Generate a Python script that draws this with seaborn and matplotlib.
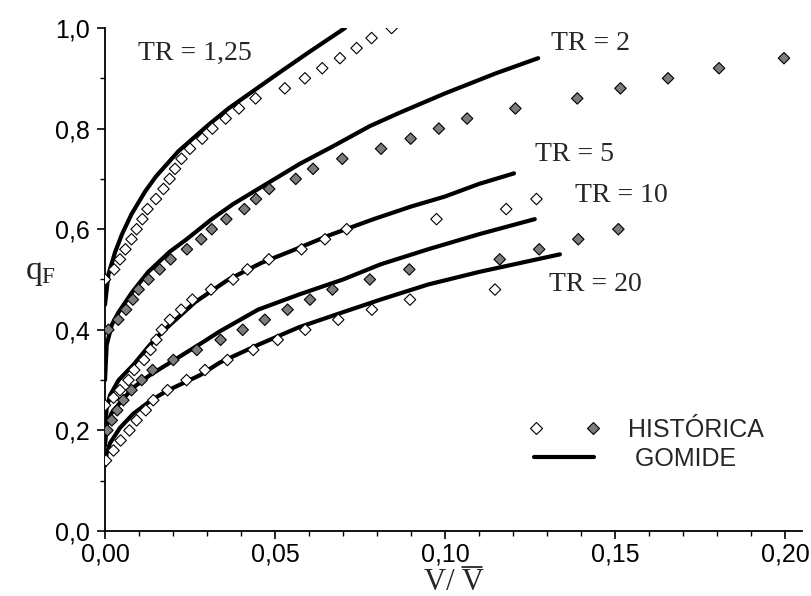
import matplotlib
matplotlib.use("Agg")
import matplotlib.pyplot as plt
from matplotlib.lines import Line2D
from matplotlib.legend_handler import HandlerTuple
from matplotlib.ticker import FixedLocator, MultipleLocator
import pandas as pd
import seaborn as sns

# ---- Historical series (V / V_mean, q_F) ----
hist_125_x = [0.0, 0.0027, 0.0044, 0.006, 0.0078, 0.0093, 0.011, 0.0125, 0.015, 0.0172,
              0.019, 0.0206, 0.0225, 0.025, 0.0286, 0.0316, 0.0355, 0.0394, 0.0443, 0.0529,
              0.0588, 0.0639, 0.0691, 0.074, 0.0784, 0.0843]
hist_125_q = [0.50, 0.52, 0.54, 0.56, 0.58, 0.60, 0.62, 0.64, 0.66, 0.68,
              0.70, 0.72, 0.74, 0.76, 0.78, 0.80, 0.82, 0.84, 0.86, 0.88,
              0.90, 0.92, 0.94, 0.96, 0.98, 1.00]

hist_2_x = [0.001, 0.0039, 0.0062, 0.0082, 0.0099, 0.0128, 0.0161, 0.0193, 0.0241, 0.0283,
            0.0314, 0.0357, 0.041, 0.0444, 0.0483, 0.0561, 0.0612, 0.0698, 0.0812, 0.0899,
            0.0982, 0.1065, 0.1207, 0.1389, 0.1516, 0.1656, 0.1806, 0.1997]
hist_2_q = [0.40, 0.42, 0.44, 0.46, 0.48, 0.50, 0.52, 0.54, 0.56, 0.58,
            0.60, 0.62, 0.64, 0.66, 0.68, 0.70, 0.72, 0.74, 0.76, 0.78,
            0.80, 0.82, 0.84, 0.86, 0.88, 0.90, 0.92, 0.94]

hist_5_x = [0.0, 0.0025, 0.0044, 0.0069, 0.0086, 0.0115, 0.0134, 0.0151, 0.0167, 0.0191,
            0.0224, 0.0257, 0.0312, 0.0377, 0.0419, 0.0482, 0.0578, 0.0647, 0.0711, 0.0975,
            0.118, 0.1269]
hist_5_q = [0.25, 0.265, 0.28, 0.30, 0.32, 0.34, 0.36, 0.38, 0.40, 0.42,
            0.44, 0.46, 0.48, 0.50, 0.52, 0.54, 0.56, 0.58, 0.60, 0.62,
            0.64, 0.66]

hist_10_x = [0.0007, 0.002, 0.0036, 0.0054, 0.0078, 0.0108, 0.014, 0.0201, 0.027, 0.034,
             0.0405, 0.047, 0.0537, 0.0603, 0.0669, 0.0779, 0.0895, 0.1161, 0.1277, 0.1392,
             0.151]
hist_10_q = [0.20, 0.22, 0.24, 0.26, 0.28, 0.30, 0.32, 0.34, 0.36, 0.38,
             0.40, 0.42, 0.44, 0.46, 0.48, 0.50, 0.52, 0.54, 0.56, 0.58,
             0.60]

hist_20_x = [0.0003, 0.0025, 0.0046, 0.0072, 0.0093, 0.012, 0.0142, 0.0184, 0.024, 0.0294,
             0.036, 0.0436, 0.0508, 0.0589, 0.0686, 0.0785, 0.0897, 0.1147]
hist_20_q = [0.14, 0.16, 0.18, 0.20, 0.22, 0.24, 0.26, 0.28, 0.30, 0.32,
             0.34, 0.36, 0.38, 0.40, 0.42, 0.44, 0.46, 0.48]

# ---- Gomide model curves ----
gom_125_x = [0.0, 0.001, 0.003, 0.005, 0.0078, 0.0118, 0.015, 0.0216, 0.03, 0.0363, 0.051, 0.06, 0.0706]
gom_125_q = [0.45, 0.51, 0.555, 0.59, 0.63, 0.675, 0.705, 0.755, 0.805, 0.84, 0.91, 0.952, 1.0]

gom_2_x = [0.0, 0.0005, 0.002, 0.004, 0.008, 0.0127, 0.019, 0.024, 0.0314, 0.0377, 0.0475,
           0.0573, 0.0671, 0.0779, 0.0868, 0.10, 0.115, 0.1274]
gom_2_q = [0.30, 0.37, 0.41, 0.435, 0.475, 0.515, 0.555, 0.58, 0.62, 0.65, 0.69,
           0.73, 0.765, 0.805, 0.832, 0.87, 0.91, 0.94]

gom_5_x = [0.0, 0.0005, 0.0015, 0.004, 0.0083, 0.0132, 0.0167, 0.0265, 0.0363, 0.046, 0.056,
           0.066, 0.079, 0.09, 0.10, 0.11, 0.1203]
gom_5_q = [0.20, 0.245, 0.27, 0.30, 0.33, 0.37, 0.395, 0.455, 0.50, 0.533, 0.56,
           0.588, 0.62, 0.645, 0.665, 0.69, 0.711]

gom_10_x = [0.0, 0.0005, 0.002, 0.005, 0.0083, 0.0132, 0.018, 0.028, 0.0338, 0.045, 0.057,
            0.07, 0.081, 0.095, 0.11, 0.1264]
gom_10_q = [0.17, 0.21, 0.235, 0.26, 0.285, 0.31, 0.33, 0.372, 0.397, 0.44, 0.47,
            0.50, 0.53, 0.56, 0.59, 0.62]

gom_20_x = [0.0, 0.0005, 0.0015, 0.0044, 0.0083, 0.0132, 0.018, 0.028, 0.0338, 0.045, 0.057,
            0.07, 0.081, 0.095, 0.11, 0.1338]
gom_20_q = [0.13, 0.155, 0.175, 0.205, 0.233, 0.258, 0.278, 0.31, 0.335, 0.37, 0.405,
            0.435, 0.46, 0.49, 0.515, 0.55]

tr_names = ["TR = 1,25", "TR = 2", "TR = 5", "TR = 10", "TR = 20"]
tr_fill = ["aberto", "cheio", "aberto", "cheio", "aberto"]
tr_label_x = [0.0097, 0.1313, 0.1264, 0.1382, 0.1306]
tr_label_y = [0.936, 0.957, 0.736, 0.654, 0.478]

x_ticks = [0.00, 0.05, 0.10, 0.15, 0.20]
x_tick_labels = ["0,00", "0,05", "0,10", "0,15", "0,20"]
y_ticks = [0.0, 0.2, 0.4, 0.6, 0.8, 1.0]
y_tick_labels = ["0,0", "0,2", "0,4", "0,6", "0,8", "1,0"]

hist_sets = [(hist_125_x, hist_125_q), (hist_2_x, hist_2_q), (hist_5_x, hist_5_q),
             (hist_10_x, hist_10_q), (hist_20_x, hist_20_q)]
gom_sets = [(gom_125_x, gom_125_q), (gom_2_x, gom_2_q), (gom_5_x, gom_5_q),
            (gom_10_x, gom_10_q), (gom_20_x, gom_20_q)]

hist_df = pd.concat(
    [pd.DataFrame({"x": hx, "q": hq, "TR": name, "fill": f})
     for (hx, hq), name, f in zip(hist_sets, tr_names, tr_fill)],
    ignore_index=True)
gom_df = pd.concat(
    [pd.DataFrame({"x": gx, "q": gq, "TR": name})
     for (gx, gq), name in zip(gom_sets, tr_names)],
    ignore_index=True)

sns.set_style("ticks")
plt.rcParams.update({
    "font.family": ["Liberation Sans", "DejaVu Sans"],
    "mathtext.fontset": "custom",
    "mathtext.rm": "Liberation Serif",
    "mathtext.it": "Liberation Serif:italic",
    "axes.linewidth": 1.3,
    "axes.edgecolor": "black",
})

W, H = 812, 596
fig = plt.figure(figsize=(W / 100, H / 100), dpi=100)
ax = fig.add_axes([105 / W, 1 - 531 / H, 697 / W, 503 / H])

fill_palette = {"aberto": "white", "cheio": "#7c7c7c"}

sns.lineplot(data=gom_df, x="x", y="q", units="TR", estimator=None, sort=False,
             color="black", linewidth=3, ax=ax, zorder=2, solid_capstyle="round")
sns.scatterplot(data=hist_df, x="x", y="q", hue="fill", palette=fill_palette,
                marker="D", s=34, edgecolor="black", linewidth=0.8,
                legend=False, ax=ax, zorder=3)

for name, tx, ty in zip(tr_names, tr_label_x, tr_label_y):
    ax.text(tx, ty, name, family="Liberation Serif", fontsize=20, va="baseline", ha="left")

ax.set_xlim(0, 0.205)
ax.set_ylim(0, 1.0)
ax.xaxis.set_major_locator(FixedLocator(x_ticks))
ax.set_xticklabels(x_tick_labels)
ax.yaxis.set_major_locator(FixedLocator(y_ticks))
ax.set_yticklabels(y_tick_labels)
ax.xaxis.set_minor_locator(MultipleLocator(0.01))
ax.yaxis.set_minor_locator(MultipleLocator(0.1))
ax.tick_params(which="major", direction="out", length=6, width=1.2, labelsize=18,
               colors="black", pad=5)
ax.tick_params(axis="x", which="major", pad=2)
ax.tick_params(which="minor", direction="out", length=3.5, width=1.0, colors="black")
sns.despine(ax=ax)

# x title: "V/ V" with a bar drawn over the second V (mean volume)
xlab_font = dict(family="Liberation Serif", fontsize=22)
ax.set_xlabel("V/ V", va="baseline", **xlab_font)
ax.xaxis.set_label_coords(0.5, -(590 - 531) / 503)
ax.set_ylabel(r"$\mathrm{q_F}$", fontsize=24, rotation=0, va="center", ha="center")
ax.yaxis.set_label_coords(-0.092, 0.513)

h_open = Line2D([], [], marker="D", ls="none", mfc="white", mec="black", ms=5.8, mew=0.8)
h_fill = Line2D([], [], marker="D", ls="none", mfc="#7c7c7c", mec="black", ms=5.8, mew=0.8)
h_line = Line2D([], [], color="black", lw=3, solid_capstyle="round")
ax.legend([(h_open, h_fill), h_line], ["HISTÓRICA", " GOMIDE"],
          handler_map={tuple: HandlerTuple(ndivide=None, pad=2.16)},
          loc="upper left", bbox_to_anchor=(0.6155, 0.2256), frameon=False,
          borderpad=0, borderaxespad=0, handlelength=2.4, handletextpad=1.36,
          labelspacing=0.2, fontsize=18)

fig.canvas.draw()
renderer = fig.canvas.get_renderer()
lab_box = ax.xaxis.label.get_window_extent(renderer)
probe = fig.text(0, 0, "V", **xlab_font)
v_width = probe.get_window_extent(renderer).width
probe.remove()
bar_y = (H - 567) / H
fig.add_artist(Line2D([(lab_box.x1 - v_width + 1) / W, (lab_box.x1 - 1) / W], [bar_y, bar_y],
                      transform=fig.transFigure, color="black", lw=1.1))

fig.savefig("out.png", dpi=100)
